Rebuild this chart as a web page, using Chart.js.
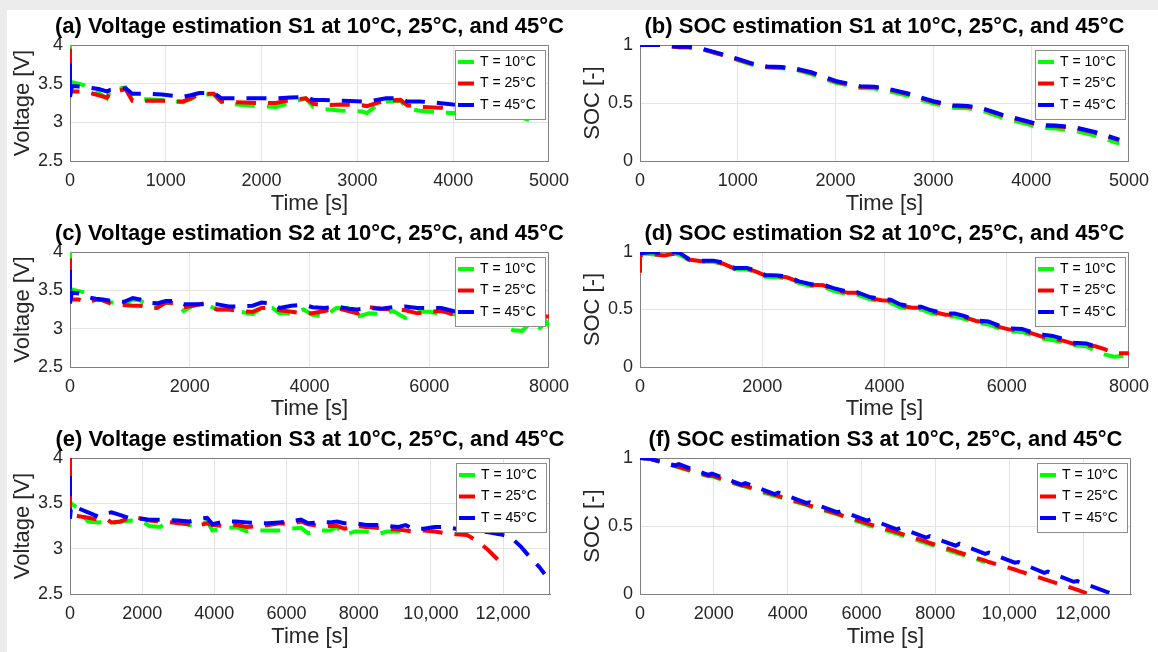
<!DOCTYPE html>
<html>
<head>
<meta charset="utf-8">
<script src="https://cdn.jsdelivr.net/npm/chart.js@4.4.1/dist/chart.umd.min.js"></script>
<style>
html, body { margin: 0; padding: 0; background: #ececec; width: 1158px; height: 652px; overflow: hidden; }
#page { position: absolute; left: 7px; top: 10px; width: 1151px; height: 642px; background: #fff; }
.cell { position: absolute; }
</style>
</head>
<body>
<div id="page"></div>
<script>
// Series labels and colours (MATLAB default-ish pure colours)
const seriesLabels = ['T = 10°C', 'T = 25°C', 'T = 45°C'];
const seriesColors = ['#00ff00', '#ff0000', '#0000ff'];

// Tick values
const voltTicks = [2.5, 3, 3.5, 4];
const socTicks = [0, 0.5, 1];
const timeTicksS1 = [0, 1000, 2000, 3000, 4000, 5000];
const timeTicksS2 = [0, 2000, 4000, 6000, 8000];
const timeTicksS3 = [0, 2000, 4000, 6000, 8000, 10000, 12000];

// (a) Voltage S1
const tA = [0, 0, 20, 150, 300, 385, 420, 580, 650, 800, 960, 1100, 1180, 1260, 1350, 1500, 1580, 1750, 1950, 2150,
    2300, 2460, 2540, 2650, 2850, 3050, 3100, 3200, 3300, 3450, 3520, 3650, 3850, 4000, 4200, 4400, 4600, 4800, 4900];
const vA10 = [4.0, 3.53, 3.52, 3.48, 3.38, 3.31, 3.42, 3.45, 3.29, 3.3, 3.29, 3.27, 3.26, 3.3, 3.36, 3.36, 3.26, 3.23, 3.21, 3.2,
    3.25, 3.31, 3.2, 3.17, 3.15, 3.14, 3.12, 3.22, 3.27, 3.28, 3.18, 3.15, 3.13, 3.12, 3.11, 3.11, 3.1, 3.03, 2.97];
const vA25 = [3.95, 3.4, 3.4, 3.4, 3.35, 3.32, 3.38, 3.43, 3.28, 3.28, 3.28, 3.27, 3.27, 3.31, 3.37, 3.37, 3.27, 3.26, 3.25, 3.25,
    3.29, 3.31, 3.24, 3.22, 3.23, 3.22, 3.21, 3.25, 3.28, 3.29, 3.22, 3.2, 3.19, 3.18, 3.16, 3.15, 3.14, 3.12, 3.11];
const vA45 = [3.76, 3.33, 3.47, 3.46, 3.43, 3.4, 3.42, 3.44, 3.37, 3.37, 3.36, 3.34, 3.33, 3.35, 3.38, 3.38, 3.31, 3.31, 3.31, 3.31,
    3.32, 3.33, 3.29, 3.29, 3.28, 3.27, 3.27, 3.29, 3.31, 3.31, 3.27, 3.27, 3.25, 3.23, 3.22, 3.21, 3.2, 3.19, 3.18];

// (b) SOC S1
const tB = [0, 200, 300, 400, 500, 650, 800, 1000, 1150, 1300, 1450, 1600, 1750, 2000, 2250, 2400, 2550, 2750, 3000, 3200,
    3350, 3500, 3700, 3950, 4100, 4250, 4450, 4650, 4900];
const sB10 = [1.0, 1.0, 0.99, 0.98, 0.98, 0.96, 0.925, 0.87, 0.83, 0.805, 0.8, 0.785, 0.75, 0.675, 0.63, 0.625, 0.6, 0.56, 0.495, 0.46,
    0.455, 0.435, 0.375, 0.32, 0.285, 0.28, 0.26, 0.22, 0.15];
const sB25 = [1.0, 1.0, 0.99, 0.98, 0.98, 0.96, 0.925, 0.875, 0.835, 0.81, 0.805, 0.79, 0.76, 0.685, 0.64, 0.635, 0.615, 0.575, 0.51, 0.475,
    0.47, 0.45, 0.395, 0.34, 0.305, 0.3, 0.285, 0.245, 0.18];
const sB45 = [1.0, 1.0, 0.99, 0.985, 0.985, 0.965, 0.93, 0.88, 0.84, 0.815, 0.81, 0.795, 0.765, 0.69, 0.645, 0.64, 0.62, 0.58, 0.515, 0.48,
    0.475, 0.455, 0.4, 0.345, 0.31, 0.305, 0.29, 0.25, 0.185];

// (c) Voltage S2
const tC = [0, 0, 30, 150, 300, 430, 550, 700, 900, 1050, 1170, 1300, 1450, 1600, 1780, 1900, 2050, 2250, 2450, 2650,
    2850, 3050, 3200, 3380, 3500, 3700, 3900, 4050, 4250, 4450, 4650, 4800, 5000, 5200, 5400, 5600, 5800, 6000, 6200, 6400,
    6600, 6800, 7000, 7200, 7400, 7550, 7700, 7850, 7950, 8000];
const vC10 = [4.0, 3.51, 3.51, 3.49, 3.46, 3.38, 3.37, 3.34, 3.32, 3.38, 3.37, 3.29, 3.27, 3.34, 3.33, 3.23, 3.3, 3.33, 3.25, 3.25,
    3.22, 3.19, 3.27, 3.27, 3.2, 3.2, 3.25, 3.18, 3.16, 3.27, 3.27, 3.16, 3.2, 3.19, 3.23, 3.14, 3.22, 3.22, 3.19, 3.19,
    3.15, 3.12, 3.08, 3.05, 2.98, 2.97, 3.08, 3.01, 3.09, 3.03];
const vC25 = [3.92, 3.38, 3.38, 3.38, 3.34, 3.38, 3.37, 3.32, 3.31, 3.3, 3.3, 3.28, 3.27, 3.34, 3.33, 3.28, 3.3, 3.33, 3.25, 3.25,
    3.23, 3.22, 3.27, 3.27, 3.24, 3.22, 3.2, 3.2, 3.23, 3.27, 3.23, 3.2, 3.28, 3.26, 3.25, 3.24, 3.2, 3.22, 3.23, 3.19,
    3.18, 3.17, 3.17, 3.16, 3.15, 3.15, 3.16, 3.16, 3.16, 3.16];
const vC45 = [3.77, 3.33, 3.47, 3.46, 3.41, 3.39, 3.38, 3.36, 3.35, 3.4, 3.38, 3.34, 3.33, 3.36, 3.36, 3.32, 3.32, 3.32, 3.32, 3.29,
    3.29, 3.3, 3.34, 3.33, 3.27, 3.3, 3.31, 3.28, 3.27, 3.29, 3.26, 3.25, 3.27, 3.26, 3.28, 3.29, 3.27, 3.27, 3.27, 3.23,
    3.22, 3.21, 3.2, 3.2, 3.19, 3.19, 3.18, 3.18, null, null];

// (d) SOC S2
const tD = [0, 0, 200, 400, 550, 650, 800, 1000, 1200, 1350, 1550, 1750, 1900, 2050, 2250, 2400, 2600, 2800, 3000, 3200,
    3400, 3550, 3750, 3950, 4100, 4250, 4450, 4600, 4750, 5000, 5150, 5300, 5500, 5700, 5900, 6050, 6250, 6400, 6600, 6750,
    6950, 7100, 7300, 7450, 7600, 7750, 7900, 8000];
const sD10 = [0.99, 0.99, 0.98, 0.97, 0.985, 0.975, 0.93, 0.915, 0.915, 0.895, 0.85, 0.85, 0.825, 0.785, 0.78, 0.77, 0.73, 0.705, 0.695, 0.655,
    0.635, 0.63, 0.59, 0.57, 0.56, 0.52, 0.505, 0.5, 0.47, 0.44, 0.44, 0.42, 0.385, 0.37, 0.33, 0.31, 0.305, 0.28, 0.245, 0.235,
    0.21, 0.19, 0.18, 0.14, 0.11, 0.09, 0.095, 0.1];
const sD25 = [0.82, 0.97, 0.98, 0.97, 0.985, 0.975, 0.935, 0.92, 0.92, 0.9, 0.855, 0.855, 0.83, 0.795, 0.79, 0.78, 0.74, 0.715, 0.71, 0.67,
    0.645, 0.645, 0.6, 0.58, 0.575, 0.535, 0.515, 0.515, 0.485, 0.455, 0.455, 0.435, 0.4, 0.385, 0.345, 0.325, 0.32, 0.295, 0.26, 0.25,
    0.225, 0.2, 0.19, 0.18, 0.155, 0.12, 0.12, 0.12];
const sD45 = [0.99, 0.99, 1.0, 0.985, 1.0, 0.99, 0.94, 0.925, 0.925, 0.91, 0.86, 0.86, 0.84, 0.8, 0.795, 0.79, 0.745, 0.72, 0.715, 0.68,
    0.655, 0.65, 0.61, 0.59, 0.585, 0.545, 0.525, 0.525, 0.495, 0.465, 0.465, 0.445, 0.405, 0.395, 0.355, 0.335, 0.33, 0.305, 0.28, 0.27,
    0.24, 0.21, 0.205, 0.18, null, null, null, null];

// (e) Voltage S3
const tE = [0, 0, 30, 200, 500, 800, 1000, 1150, 1400, 1700, 2000, 2200, 2500, 2800, 3000, 3300, 3600, 3800, 3950, 4300,
    4600, 4900, 5200, 5500, 5800, 6100, 6400, 6600, 6900, 7200, 7400, 7600, 7900, 8200, 8500, 8800, 9100, 9300, 9500, 9800,
    10100, 10400, 10700, 11000, 11300, 11600, 11900, 12200, 12500, 12800, 13000, 13150];
const vE10 = [4.0, 3.52, 3.5, 3.45, 3.3, 3.29, 3.3, 3.28, 3.3, 3.31, 3.3, 3.25, 3.24, 3.33, 3.3, 3.26, 3.26, 3.3, 3.2, 3.22,
    3.24, 3.19, 3.2, 3.2, 3.2, 3.22, 3.23, 3.17, 3.2, 3.2, 3.24, 3.15, 3.19, 3.19, 3.16, 3.19, 3.19, 3.23, null, null,
    null, null, null, null, null, null, null, null, null, null, null, null];
const vE25 = [4.0, 3.37, 3.37, 3.36, 3.34, 3.32, 3.33, 3.29, 3.3, 3.35, 3.33, 3.31, 3.3, 3.29, 3.28, 3.27, 3.26, 3.28, 3.26, 3.25,
    3.26, 3.24, 3.25, 3.26, 3.28, 3.27, 3.3, 3.27, 3.25, 3.25, 3.25, 3.22, 3.25, 3.24, 3.23, 3.22, 3.21, 3.2, 3.19, 3.2,
    3.19, 3.17, 3.16, 3.15, 3.08, 2.98, 2.86, null, null, null, null, null];
const vE45 = [3.8, 3.33, 3.47, 3.45, 3.4, 3.35, 3.39, 3.4, 3.37, 3.33, 3.33, 3.32, 3.32, 3.31, 3.31, 3.3, 3.33, 3.34, 3.27, 3.3,
    3.3, 3.29, 3.28, 3.28, 3.29, 3.3, 3.32, 3.28, 3.29, 3.29, 3.3, 3.28, 3.28, 3.26, 3.26, 3.25, 3.24, 3.26, 3.22, 3.22,
    3.24, 3.24, 3.22, 3.21, 3.2, 3.18, 3.16, 3.13, 3.02, 2.88, 2.8, 2.72];

// (f) SOC S3
const tF = [0, 250, 950, 1050, 1850, 1950, 2750, 2850, 3650, 3750, 4500, 4600, 5350, 5450, 6150, 6250, 6950, 7050, 7750, 7850,
    8550, 8650, 9350, 9450, 10150, 10250, 10950, 11050, 11750, 11850, 12100, 12750];
const sF10 = [1.0, 0.995, 0.94, 0.93, 0.865, 0.865, 0.795, 0.79, 0.72, 0.715, 0.655, 0.645, 0.585, 0.575, 0.51, 0.5, 0.445, 0.435, 0.375, 0.365,
    0.305, 0.295, 0.235, null, null, null, null, null, null, null, null, null];
const sF25 = [1.0, 0.995, 0.94, 0.935, 0.87, 0.87, 0.8, 0.795, 0.73, 0.72, 0.66, 0.65, 0.59, 0.58, 0.52, 0.51, 0.455, 0.445, 0.385, 0.375,
    0.315, 0.305, 0.245, 0.235, 0.18, 0.17, 0.11, 0.1, 0.04, 0.03, 0.005, null];
const sF45 = [1.0, 0.995, 0.945, 0.955, 0.875, 0.885, 0.805, 0.815, 0.735, 0.745, 0.67, 0.675, 0.6, 0.61, 0.54, 0.55, 0.475, 0.485, 0.415, 0.425,
    0.355, 0.37, 0.295, 0.305, 0.23, 0.235, 0.155, 0.165, 0.09, 0.095, 0.07, 0.005];

Chart.defaults.font.family = "'Liberation Sans', Arial, Helvetica, sans-serif";
Chart.defaults.color = '#262626';

// title drawn centred over the axes box (not squeezed)
const panelTitle = {
    id: 'panelTitle',
    afterDraw(chart, args, opts) {
        const {ctx, chartArea: a} = chart;
        ctx.save();
        ctx.font = "bold 22px 'Liberation Sans', Arial, sans-serif";
        ctx.fillStyle = '#000';
        ctx.textAlign = 'center';
        ctx.textBaseline = 'middle';
        ctx.fillText(opts.text, (a.left + a.right) / 2, a.top - 18);
        ctx.restore();
    }
};

// top and right edges of the axes box
const axesBox = {
    id: 'axesBox',
    beforeDatasetsDraw(chart) {
        const {ctx, chartArea: a} = chart;
        ctx.save();
        ctx.strokeStyle = '#808080';
        ctx.lineWidth = 1;
        ctx.beginPath();
        ctx.moveTo(a.left, a.top + 0.5);
        ctx.lineTo(a.right - 0.5, a.top + 0.5);
        ctx.lineTo(a.right - 0.5, a.bottom);
        ctx.stroke();
        ctx.restore();
    }
};

// legend box inside the axes, top right
const insideLegend = {
    id: 'insideLegend',
    afterDatasetsDraw(chart) {
        const {ctx, chartArea: a} = chart;
        const w = 90, h = 69;
        const x0 = a.right - 4 - w, y0 = a.top + 5;
        ctx.save();
        ctx.fillStyle = '#fff';
        ctx.fillRect(x0, y0, w, h);
        ctx.strokeStyle = '#8c8c8c';
        ctx.lineWidth = 1;
        ctx.strokeRect(x0 + 0.5, y0 + 0.5, w, h);
        ctx.font = "14px 'Liberation Sans', Arial, sans-serif";
        ctx.textBaseline = 'middle';
        ctx.textAlign = 'left';
        chart.data.datasets.forEach((ds, i) => {
            const y = y0 + 12 + i * 21.5;
            ctx.strokeStyle = ds.borderColor;
            ctx.lineWidth = 4;
            ctx.beginPath();
            ctx.moveTo(x0 + 3, y);
            ctx.lineTo(x0 + 19, y);
            ctx.stroke();
            ctx.fillStyle = '#000';
            ctx.fillText(ds.label, x0 + 25, y);
        });
        ctx.restore();
    }
};

function points(t, v) {
    return t.map((x, i) => ({x: x, y: v[i]}));
}

function fmtTime(v) {
    return v >= 10000 ? String(v).replace(/\B(?=(\d{3})+(?!\d))/g, ',') : String(v);
}

function makePanel(p) {
    const wrap = document.createElement('div');
    wrap.className = 'cell';
    wrap.style.left = p.left + 'px';
    wrap.style.top = p.top + 'px';
    wrap.style.width = p.w + 'px';
    wrap.style.height = p.h + 'px';
    const canvas = document.createElement('canvas');
    canvas.width = p.w;
    canvas.height = p.h;
    canvas.style.width = p.w + 'px';
    canvas.style.height = p.h + 'px';
    wrap.appendChild(canvas);
    document.body.appendChild(wrap);

    new Chart(canvas, {
        type: 'line',
        data: {
            datasets: [0, 1, 2].map(i => ({
                label: seriesLabels[i],
                data: points(p.t, p.ys[i]),
                borderColor: seriesColors[i],
                backgroundColor: seriesColors[i],
                borderWidth: 4,
                borderDash: [20, 12],
                borderCapStyle: 'butt',
                pointRadius: 0,
                tension: 0,
                fill: false,
                order: 3 - i
            }))
        },
        options: {
            responsive: false,
            animation: false,
            layout: {padding: {left: 0, right: p.padR, top: p.plotTop, bottom: 0}},
            plugins: {
                legend: {display: false},
                tooltip: {enabled: false},
                panelTitle: {text: p.title}
            },
            scales: {
                x: {
                    type: 'linear',
                    min: 0,
                    max: p.xMax,
                    afterBuildTicks: s => { s.ticks = p.xTicks.map(v => ({value: v})); },
                    afterFit: s => { s.height = p.xBox; },
                    ticks: {font: {size: 18}, color: '#262626', padding: 9, maxRotation: 0, autoSkip: false, callback: v => fmtTime(v)},
                    grid: {color: '#e4e4e4', drawTicks: false},
                    border: {color: '#808080'},
                    title: {display: true, text: 'Time [s]', color: '#262626', font: {size: 22, lineHeight: 1}, padding: {top: 0, bottom: p.xTitlePad}}
                },
                y: {
                    type: 'linear',
                    min: p.yMin,
                    max: p.yMax,
                    afterBuildTicks: s => { s.ticks = p.yTicks.map(v => ({value: v})); },
                    afterFit: s => { s.width = p.yBox; },
                    ticks: {font: {size: 18}, color: '#262626', padding: 7, callback: v => String(v)},
                    grid: {color: '#e4e4e4', drawTicks: false},
                    border: {color: '#808080'},
                    title: {display: true, text: p.yLabel, color: '#262626', font: {size: 22, lineHeight: 1}, padding: {top: p.yTitlePad, bottom: 0}}
                }
            }
        },
        plugins: [axesBox, insideLegend, panelTitle]
    });
}

const leftCol = {left: 7, w: 571, padR: 28, yBox: 63, yTitlePad: 5};
const rightCol = {left: 578, w: 580, padR: 27, yBox: 62, yTitlePad: 4};
const row1 = {top: 10, h: 205, plotTop: 35, xBox: 54, xTitlePad: 0};
const row2 = {top: 215, h: 205, plotTop: 37, xBox: 53, xTitlePad: 0};
const row3 = {top: 420, h: 232, plotTop: 38, xBox: 58, xTitlePad: 4};

const voltAxis = {yMin: 2.5, yMax: 4, yTicks: voltTicks, yLabel: 'Voltage [V]'};
const socAxis = {yMin: 0, yMax: 1, yTicks: socTicks, yLabel: 'SOC [-]'};

makePanel(Object.assign({}, leftCol, row1, voltAxis, {xMax: 5000, xTicks: timeTicksS1,
    title: '(a) Voltage estimation S1 at 10°C, 25°C, and 45°C', t: tA, ys: [vA10, vA25, vA45]}));
makePanel(Object.assign({}, rightCol, row1, socAxis, {xMax: 5000, xTicks: timeTicksS1,
    title: '(b) SOC estimation S1 at 10°C, 25°C, and 45°C', t: tB, ys: [sB10, sB25, sB45]}));
makePanel(Object.assign({}, leftCol, row2, voltAxis, {xMax: 8000, xTicks: timeTicksS2,
    title: '(c) Voltage estimation S2 at 10°C, 25°C, and 45°C', t: tC, ys: [vC10, vC25, vC45]}));
makePanel(Object.assign({}, rightCol, row2, socAxis, {xMax: 8000, xTicks: timeTicksS2,
    title: '(d) SOC estimation S2 at 10°C, 25°C, and 45°C', t: tD, ys: [sD10, sD25, sD45]}));
makePanel(Object.assign({}, leftCol, row3, voltAxis, {xMax: 13300, xTicks: timeTicksS3,
    title: '(e) Voltage estimation S3 at 10°C, 25°C, and 45°C', t: tE, ys: [vE10, vE25, vE45]}));
makePanel(Object.assign({}, rightCol, row3, socAxis, {xMax: 13300, xTicks: timeTicksS3,
    title: '(f) SOC estimation S3 at 10°C, 25°C, and 45°C', t: tF, ys: [sF10, sF25, sF45]}));
</script>
</body>
</html>
